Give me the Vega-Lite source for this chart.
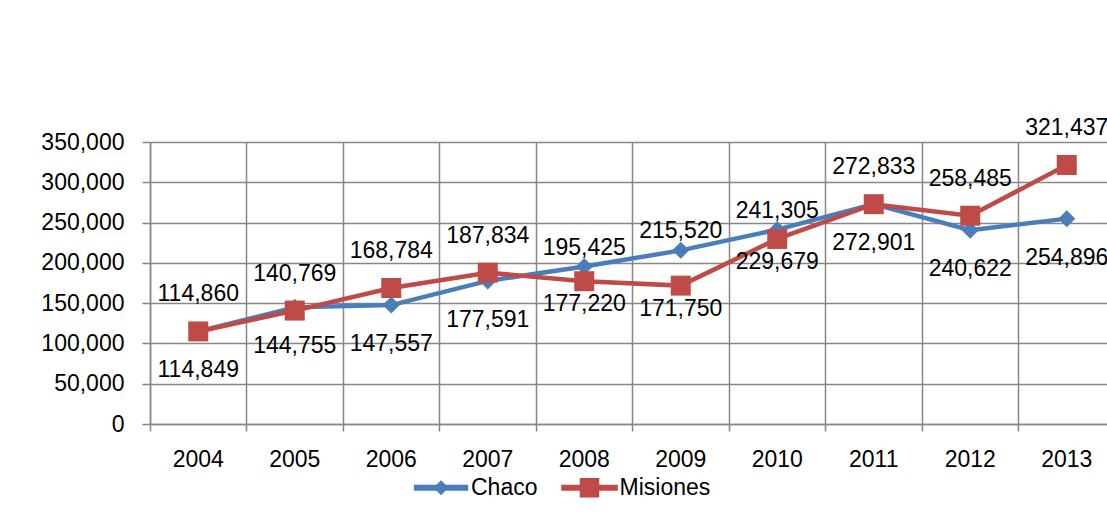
{
  "$schema": "https://vega.github.io/schema/vega-lite/v6.json",
  "width": 957,
  "height": 282,
  "autosize": {"type": "none"},
  "padding": {"left": 150, "top": 142, "right": 0, "bottom": 98},
  "background": "white",
  "config": {"view": {"stroke": null}, "font": "Liberation Sans"},
  "data": {
    "values": [
      {"year": "2004", "series": "Chaco", "value": 114849, "pos": "below"},
      {"year": "2005", "series": "Chaco", "value": 144755, "pos": "below"},
      {"year": "2006", "series": "Chaco", "value": 147557, "pos": "below"},
      {"year": "2007", "series": "Chaco", "value": 177591, "pos": "below"},
      {"year": "2008", "series": "Chaco", "value": 195425, "pos": "above"},
      {"year": "2009", "series": "Chaco", "value": 215520, "pos": "above"},
      {"year": "2010", "series": "Chaco", "value": 241305, "pos": "above"},
      {"year": "2011", "series": "Chaco", "value": 272901, "pos": "below"},
      {"year": "2012", "series": "Chaco", "value": 240622, "pos": "below"},
      {"year": "2013", "series": "Chaco", "value": 254896, "pos": "below"},
      {"year": "2004", "series": "Misiones", "value": 114860, "pos": "above"},
      {"year": "2005", "series": "Misiones", "value": 140769, "pos": "above"},
      {"year": "2006", "series": "Misiones", "value": 168784, "pos": "above"},
      {"year": "2007", "series": "Misiones", "value": 187834, "pos": "above"},
      {"year": "2008", "series": "Misiones", "value": 177220, "pos": "below"},
      {"year": "2009", "series": "Misiones", "value": 171750, "pos": "below"},
      {"year": "2010", "series": "Misiones", "value": 229679, "pos": "below"},
      {"year": "2011", "series": "Misiones", "value": 272833, "pos": "above"},
      {"year": "2012", "series": "Misiones", "value": 258485, "pos": "above"},
      {"year": "2013", "series": "Misiones", "value": 321437, "pos": "above"}
    ]
  },
  "encoding": {
    "x": {
      "field": "year",
      "type": "ordinal",
      "bandPosition": 0.5,
      "scale": {"type": "band", "range": [0, 965], "paddingInner": 0, "paddingOuter": 0},
      "axis": {
        "title": null,
        "bandPosition": 0,
        "labelAngle": 0,
        "grid": true,
        "gridColor": "#878787",
        "gridWidth": 1.5,
        "domain": true,
        "domainColor": "#878787",
        "domainWidth": 1.5,
        "tickColor": "#878787",
        "tickWidth": 1.5,
        "tickSize": 7,
        "labelFont": "Liberation Sans",
        "labelFontSize": 23,
        "labelColor": "#000000",
        "labelPadding": 17
      }
    },
    "y": {
      "field": "value",
      "type": "quantitative",
      "scale": {"domain": [0, 350000], "nice": false},
      "axis": {
        "title": null,
        "values": [0, 50000, 100000, 150000, 200000, 250000, 300000, 350000],
        "format": ",d",
        "grid": true,
        "gridColor": "#878787",
        "gridWidth": 1.5,
        "domain": true,
        "domainColor": "#878787",
        "domainWidth": 1.5,
        "tickColor": "#878787",
        "tickWidth": 1.5,
        "tickSize": 8,
        "labelFont": "Liberation Sans",
        "labelFontSize": 23,
        "labelColor": "#000000",
        "labelPadding": 18
      }
    }
  },
  "layer": [
    {
      "mark": {"type": "line", "strokeWidth": 4.5},
      "encoding": {
        "color": {
          "field": "series",
          "type": "nominal",
          "scale": {"domain": ["Chaco", "Misiones"], "range": ["#4A7EBB", "#BE4B48"]},
          "legend": {
            "orient": "none",
            "legendX": 279.5,
            "legendY": 334,
            "direction": "horizontal",
            "title": null,
            "padding": 0,
            "labelFont": "Liberation Sans",
            "labelFontSize": 23,
            "labelColor": "#000000",
            "labelOffset": 18.5,
            "columnPadding": 20.5,
            "symbolSize": 324,
            "encode": {
              "symbols": {
                "update": {
                  "shape": {"signal": "datum.value === 'Chaco' ? 'M-2.94,-0.25H2.94V0.25H-2.94Z M0,-0.72L0.72,0L0,0.72L-0.72,0Z' : 'M-3.06,-0.25H3.06V0.25H-3.06Z M-1,-1H1V1H-1Z'"},
                  "fill": {"signal": "datum.value === 'Chaco' ? '#4A7EBB' : '#BE4B48'"},
                  "stroke": {"value": "transparent"},
                  "size": {"value": 324},
                  "opacity": {"value": 1}
                }
              }
            }
          }
        }
      }
    },
    {
      "transform": [{"filter": "datum.series === 'Chaco'"}],
      "mark": {"type": "point", "shape": "diamond", "filled": true, "size": 289, "opacity": 1},
      "encoding": {"color": {"field": "series", "type": "nominal"}}
    },
    {
      "transform": [{"filter": "datum.series === 'Misiones'"}],
      "mark": {"type": "point", "shape": "square", "filled": true, "size": 400, "opacity": 1},
      "encoding": {"color": {"field": "series", "type": "nominal"}}
    },
    {
      "transform": [{"filter": "datum.series === 'Chaco' && datum.pos === 'above'"}],
      "mark": {"type": "text", "font": "Liberation Sans", "fontSize": 23, "fill": "#000000", "align": "center", "baseline": "middle", "dy": -19},
      "encoding": {"text": {"field": "value", "type": "quantitative", "format": ","}}
    },
    {
      "transform": [{"filter": "datum.series === 'Chaco' && datum.pos === 'below'"}],
      "mark": {"type": "text", "font": "Liberation Sans", "fontSize": 23, "fill": "#000000", "align": "center", "baseline": "middle", "dy": 39},
      "encoding": {"text": {"field": "value", "type": "quantitative", "format": ","}}
    },
    {
      "transform": [{"filter": "datum.series === 'Misiones' && datum.pos === 'above'"}],
      "mark": {"type": "text", "font": "Liberation Sans", "fontSize": 23, "fill": "#000000", "align": "center", "baseline": "middle", "dy": -37},
      "encoding": {"text": {"field": "value", "type": "quantitative", "format": ","}}
    },
    {
      "transform": [{"filter": "datum.series === 'Misiones' && datum.pos === 'below'"}],
      "mark": {"type": "text", "font": "Liberation Sans", "fontSize": 23, "fill": "#000000", "align": "center", "baseline": "middle", "dy": 23},
      "encoding": {"text": {"field": "value", "type": "quantitative", "format": ","}}
    }
  ]
}
